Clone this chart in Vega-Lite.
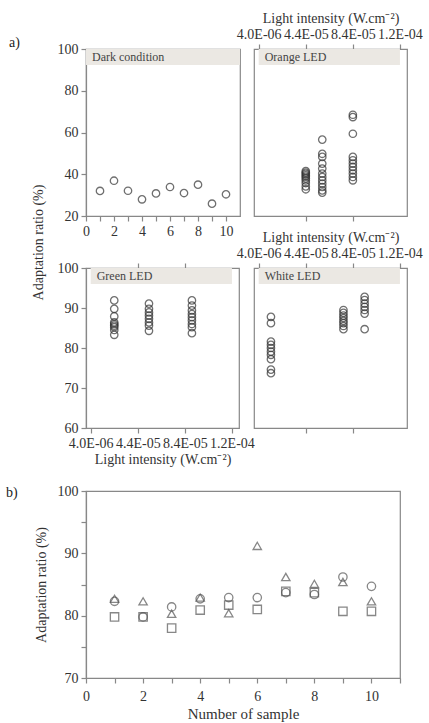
{
 "$schema": "https://vega.github.io/schema/vega-lite/v6.json",
 "padding": {"left": 5, "top": 10, "right": 5, "bottom": 0},
 "background": "white",
 "config": {
  "view": {"stroke": "#888", "strokeWidth": 1.2},
  "font": "Liberation Serif",
  "axis": {"labelFont": "Liberation Serif", "titleFont": "Liberation Serif", "labelFontSize": 14, "titleFontSize": 14, "titleFontWeight": "normal", "domainColor": "#888", "domainWidth": 1.2, "tickColor": "#888", "tickWidth": 1.2, "tickSize": 5, "grid": false, "labelColor": "#333", "titleColor": "#333", "labelPadding": 3, "labelOverlap": false, "labelFlush": false},
  "title": {"font": "Liberation Serif", "fontSize": 14, "fontWeight": "normal", "color": "#222"}
 },
 "datasets": {
  "dark": [
   {"sample": 1, "ratio": 32.0}, {"sample": 2, "ratio": 36.9}, {"sample": 3, "ratio": 32.1}, {"sample": 4, "ratio": 28.0}, {"sample": 5, "ratio": 30.8},
   {"sample": 6, "ratio": 33.9}, {"sample": 7, "ratio": 31.0}, {"sample": 8, "ratio": 35.0}, {"sample": 9, "ratio": 25.9}, {"sample": 10, "ratio": 30.4}
  ],
  "orange": [
   {"intensity": 0.000044, "ratio": 41.5}, {"intensity": 0.000044, "ratio": 40.8}, {"intensity": 0.000044, "ratio": 40.2}, {"intensity": 0.000044, "ratio": 39.5}, {"intensity": 0.000044, "ratio": 38.8},
   {"intensity": 0.000044, "ratio": 38.0}, {"intensity": 0.000044, "ratio": 37.0}, {"intensity": 0.000044, "ratio": 35.8}, {"intensity": 0.000044, "ratio": 34.2}, {"intensity": 0.000044, "ratio": 32.8},
   {"intensity": 0.000058, "ratio": 56.6}, {"intensity": 0.000058, "ratio": 49.8}, {"intensity": 0.000058, "ratio": 48.3}, {"intensity": 0.000058, "ratio": 45.1}, {"intensity": 0.000058, "ratio": 42.7},
   {"intensity": 0.000058, "ratio": 40.3}, {"intensity": 0.000058, "ratio": 38.7}, {"intensity": 0.000058, "ratio": 37.1}, {"intensity": 0.000058, "ratio": 35.5}, {"intensity": 0.000058, "ratio": 33.9},
   {"intensity": 0.000058, "ratio": 32.3}, {"intensity": 0.000058, "ratio": 31.2},
   {"intensity": 0.000084, "ratio": 68.5}, {"intensity": 0.000084, "ratio": 67.4}, {"intensity": 0.000084, "ratio": 59.4}, {"intensity": 0.000084, "ratio": 48.3}, {"intensity": 0.000084, "ratio": 46.7},
   {"intensity": 0.000084, "ratio": 45.1}, {"intensity": 0.000084, "ratio": 43.5}, {"intensity": 0.000084, "ratio": 41.9}, {"intensity": 0.000084, "ratio": 40.3}, {"intensity": 0.000084, "ratio": 38.7},
   {"intensity": 0.000084, "ratio": 37.1}
  ],
  "green": [
   {"intensity": 0.000024, "ratio": 91.9}, {"intensity": 0.000024, "ratio": 89.8}, {"intensity": 0.000024, "ratio": 87.9}, {"intensity": 0.000024, "ratio": 86.4}, {"intensity": 0.000024, "ratio": 86.0},
   {"intensity": 0.000024, "ratio": 85.6}, {"intensity": 0.000024, "ratio": 85.2}, {"intensity": 0.000024, "ratio": 84.5}, {"intensity": 0.000024, "ratio": 83.3},
   {"intensity": 0.0000535, "ratio": 91.1}, {"intensity": 0.0000535, "ratio": 89.8}, {"intensity": 0.0000535, "ratio": 88.9}, {"intensity": 0.0000535, "ratio": 88.1}, {"intensity": 0.0000535, "ratio": 87.3},
   {"intensity": 0.0000535, "ratio": 86.4}, {"intensity": 0.0000535, "ratio": 85.6}, {"intensity": 0.0000535, "ratio": 84.3},
   {"intensity": 0.00009, "ratio": 91.9}, {"intensity": 0.00009, "ratio": 90.6}, {"intensity": 0.00009, "ratio": 89.4}, {"intensity": 0.00009, "ratio": 88.5}, {"intensity": 0.00009, "ratio": 87.7},
   {"intensity": 0.00009, "ratio": 86.9}, {"intensity": 0.00009, "ratio": 86.0}, {"intensity": 0.00009, "ratio": 85.2}, {"intensity": 0.00009, "ratio": 83.7}
  ],
  "white": [
   {"intensity": 0.0000144, "ratio": 87.8}, {"intensity": 0.0000144, "ratio": 86.2}, {"intensity": 0.0000144, "ratio": 81.6}, {"intensity": 0.0000144, "ratio": 80.8}, {"intensity": 0.0000144, "ratio": 80.0},
   {"intensity": 0.0000144, "ratio": 79.1}, {"intensity": 0.0000144, "ratio": 78.3}, {"intensity": 0.0000144, "ratio": 77.2}, {"intensity": 0.0000144, "ratio": 74.6}, {"intensity": 0.0000144, "ratio": 73.7},
   {"intensity": 0.000076, "ratio": 89.5}, {"intensity": 0.000076, "ratio": 88.8}, {"intensity": 0.000076, "ratio": 88.1}, {"intensity": 0.000076, "ratio": 87.5}, {"intensity": 0.000076, "ratio": 86.8},
   {"intensity": 0.000076, "ratio": 86.2}, {"intensity": 0.000076, "ratio": 85.5}, {"intensity": 0.000076, "ratio": 84.7},
   {"intensity": 0.000094, "ratio": 92.8}, {"intensity": 0.000094, "ratio": 92.0}, {"intensity": 0.000094, "ratio": 91.1}, {"intensity": 0.000094, "ratio": 90.3}, {"intensity": 0.000094, "ratio": 89.5},
   {"intensity": 0.000094, "ratio": 88.6}, {"intensity": 0.000094, "ratio": 84.7}
  ],
  "samples": [
   {"sample": 1, "series": "A", "ratio": 82.3}, {"sample": 2, "series": "A", "ratio": 79.8}, {"sample": 3, "series": "A", "ratio": 81.4}, {"sample": 4, "series": "A", "ratio": 82.7}, {"sample": 5, "series": "A", "ratio": 82.9},
   {"sample": 6, "series": "A", "ratio": 82.9}, {"sample": 7, "series": "A", "ratio": 83.7}, {"sample": 8, "series": "A", "ratio": 83.4}, {"sample": 9, "series": "A", "ratio": 86.2}, {"sample": 10, "series": "A", "ratio": 84.7},
   {"sample": 1, "series": "B", "ratio": 82.7}, {"sample": 2, "series": "B", "ratio": 82.3}, {"sample": 3, "series": "B", "ratio": 80.3}, {"sample": 4, "series": "B", "ratio": 82.9}, {"sample": 5, "series": "B", "ratio": 80.4},
   {"sample": 6, "series": "B", "ratio": 91.2}, {"sample": 7, "series": "B", "ratio": 86.2}, {"sample": 8, "series": "B", "ratio": 85.1}, {"sample": 9, "series": "B", "ratio": 85.4}, {"sample": 10, "series": "B", "ratio": 82.3},
   {"sample": 1, "series": "C", "ratio": 79.8}, {"sample": 2, "series": "C", "ratio": 79.8}, {"sample": 3, "series": "C", "ratio": 78.0}, {"sample": 4, "series": "C", "ratio": 80.9}, {"sample": 5, "series": "C", "ratio": 81.7},
   {"sample": 6, "series": "C", "ratio": 81.0}, {"sample": 7, "series": "C", "ratio": 83.9}, {"sample": 8, "series": "C", "ratio": 83.7}, {"sample": 9, "series": "C", "ratio": 80.7}, {"sample": 10, "series": "C", "ratio": 80.7}
  ]
 },
 "vconcat": [
  {
   "columns": 2,
   "bounds": "flush",
   "spacing": {"row": 52, "column": 14},
   "concat": [
    {
     "width": 154, "height": 167,
     "title": {"text": "a)", "anchor": "start", "frame": "group", "offset": 0, "dx": -77, "dy": 8},
     "resolve": {"axis": {"x": "independent", "y": "independent"}},
     "layer": [
      {"data": {"values": [{}]}, "mark": {"type": "rect", "color": "#ebe8e3"},
       "encoding": {"x": {"datum": 0, "type": "quantitative", "scale": {"domain": [0, 11]}, "axis": null}, "x2": {"datum": 11},
        "y": {"datum": 100, "type": "quantitative", "scale": {"domain": [20, 100]}, "axis": null}, "y2": {"datum": 92.3}}},
      {"data": {"values": [{}]}, "mark": {"type": "text", "align": "left", "baseline": "middle", "dx": 6, "dy": 8, "font": "Liberation Serif", "fontSize": 12, "color": "#444"},
       "encoding": {"x": {"datum": 0, "type": "quantitative", "axis": null}, "y": {"datum": 100, "type": "quantitative", "axis": null}, "text": {"value": "Dark condition"}}},
      {"data": {"name": "dark"},
       "mark": {"type": "point", "shape": "circle", "filled": false, "size": 55, "stroke": "#333", "strokeWidth": 1.3},
       "encoding": {
        "x": {"field": "sample", "type": "quantitative", "scale": {"domain": [0, 11]}, "axis": {"title": null, "values": [0, 1, 2, 3, 4, 5, 6, 7, 8, 9, 10], "labelExpr": "datum.value % 2 == 0 ? datum.label : ''", "labelOverlap": false}},
        "y": {"field": "ratio", "type": "quantitative", "scale": {"domain": [20, 100]}, "axis": {"title": null, "values": [20, 40, 60, 80, 100]}}
       }}
     ]
    },
    {
     "width": 153, "height": 167,
     "resolve": {"axis": {"x": "independent", "y": "independent"}},
     "layer": [
      {"data": {"values": [{}]}, "mark": {"type": "rect", "color": "#ebe8e3"},
       "encoding": {"x": {"datum": 0.000004, "type": "quantitative", "scale": {"domain": [0.000004, 0.000124]}, "axis": {"orient": "bottom", "title": null, "labels": false, "domain": false, "values": [0.000044, 0.000084]}}, "x2": {"datum": 0.000124},
        "y": {"datum": 100, "type": "quantitative", "scale": {"domain": [20, 100]}, "axis": null}, "y2": {"datum": 92.3}}},
      {"data": {"values": [{}]}, "mark": {"type": "text", "align": "left", "baseline": "middle", "dx": 6, "dy": 8, "font": "Liberation Serif", "fontSize": 12, "color": "#444"},
       "encoding": {"x": {"datum": 0.000004, "type": "quantitative", "axis": null}, "y": {"datum": 100, "type": "quantitative", "axis": null}, "text": {"value": "Orange LED"}}},
      {"data": {"name": "orange"},
       "mark": {"type": "point", "shape": "circle", "filled": false, "size": 55, "stroke": "#333", "strokeWidth": 1.3},
       "encoding": {
        "x": {"field": "intensity", "type": "quantitative", "scale": {"domain": [0.000004, 0.000124]}, "axis": {"orient": "top", "title": "Light intensity (W.cm⁻²)", "values": [0.000004, 0.000044, 0.000084, 0.000124], "labelExpr": "datum.value < 0.00001 ? '4.0E-06' : datum.value < 0.00005 ? '4.4E-05' : datum.value < 0.00009 ? '8.4E-05' : '1.2E-04'", "labelBound": false, "titlePadding": 2}},
        "y": {"field": "ratio", "type": "quantitative", "scale": {"domain": [20, 100]}, "axis": null}
       }}
     ]
    },
    {
     "width": 153, "height": 160,
     "resolve": {"axis": {"x": "independent", "y": "independent"}},
     "layer": [
      {"data": {"values": [{}]}, "mark": {"type": "rect", "color": "#ebe8e3"},
       "encoding": {"x": {"datum": 0.000004, "type": "quantitative", "scale": {"domain": [0.000004, 0.000124]}, "axis": {"orient": "top", "title": null, "labels": false, "domain": false, "values": [0.000044, 0.000084]}}, "x2": {"datum": 0.000124},
        "y": {"datum": 100, "type": "quantitative", "scale": {"domain": [60, 100]}, "axis": null}, "y2": {"datum": 96}}},
      {"data": {"values": [{}]}, "mark": {"type": "text", "align": "left", "baseline": "middle", "dx": 6, "dy": 8, "font": "Liberation Serif", "fontSize": 12, "color": "#444"},
       "encoding": {"x": {"datum": 0.000004, "type": "quantitative", "axis": null}, "y": {"datum": 100, "type": "quantitative", "axis": null}, "text": {"value": "Green LED"}}},
      {"data": {"name": "green"},
       "mark": {"type": "point", "shape": "circle", "filled": false, "size": 55, "stroke": "#333", "strokeWidth": 1.3},
       "encoding": {
        "x": {"field": "intensity", "type": "quantitative", "scale": {"domain": [0.000004, 0.000124]}, "axis": {"orient": "bottom", "title": "Light intensity (W.cm⁻²)", "values": [0.000004, 0.000044, 0.000084, 0.000124], "labelExpr": "datum.value < 0.00001 ? '4.0E-06' : datum.value < 0.00005 ? '4.4E-05' : datum.value < 0.00009 ? '8.4E-05' : '1.2E-04'", "labelBound": false, "titlePadding": 2}},
        "y": {"field": "ratio", "type": "quantitative", "scale": {"domain": [60, 100]}, "axis": {"title": "Adaptation ratio (%)", "values": [60, 70, 80, 90, 100], "titleY": -26, "titlePadding": 12}}
       }}
     ]
    },
    {
     "width": 153, "height": 160,
     "resolve": {"axis": {"x": "independent", "y": "independent"}},
     "layer": [
      {"data": {"values": [{}]}, "mark": {"type": "rect", "color": "#ebe8e3"},
       "encoding": {"x": {"datum": 0.000004, "type": "quantitative", "scale": {"domain": [0.000004, 0.000124]}, "axis": {"orient": "bottom", "title": null, "labels": false, "domain": false, "values": [0.000044, 0.000084]}}, "x2": {"datum": 0.000124},
        "y": {"datum": 100, "type": "quantitative", "scale": {"domain": [60, 100]}, "axis": null}, "y2": {"datum": 96}}},
      {"data": {"values": [{}]}, "mark": {"type": "text", "align": "left", "baseline": "middle", "dx": 6, "dy": 8, "font": "Liberation Serif", "fontSize": 12, "color": "#444"},
       "encoding": {"x": {"datum": 0.000004, "type": "quantitative", "axis": null}, "y": {"datum": 100, "type": "quantitative", "axis": null}, "text": {"value": "White LED"}}},
      {"data": {"name": "white"},
       "mark": {"type": "point", "shape": "circle", "filled": false, "size": 55, "stroke": "#333", "strokeWidth": 1.3},
       "encoding": {
        "x": {"field": "intensity", "type": "quantitative", "scale": {"domain": [0.000004, 0.000124]}, "axis": {"orient": "top", "title": "Light intensity (W.cm⁻²)", "values": [0.000004, 0.000044, 0.000084, 0.000124], "labelExpr": "datum.value < 0.00001 ? '4.0E-06' : datum.value < 0.00005 ? '4.4E-05' : datum.value < 0.00009 ? '8.4E-05' : '1.2E-04'", "labelBound": false, "titlePadding": 2}},
        "y": {"field": "ratio", "type": "quantitative", "scale": {"domain": [60, 100]}, "axis": null}
       }}
     ]
    }
   ]
  },
  {
   "width": 314, "height": 187,
   "title": {"text": "b)", "anchor": "start", "frame": "group", "offset": 0, "dx": -80, "dy": 16},
   "data": {"name": "samples"},
   "mark": {"type": "point", "filled": false, "size": 70, "stroke": "#555", "strokeWidth": 1.3},
   "encoding": {
    "x": {"field": "sample", "type": "quantitative", "scale": {"domain": [0, 11]}, "axis": {"title": "Number of sample", "titleFontSize": 15, "titlePadding": 3, "labelPadding": 6, "values": [0, 1, 2, 3, 4, 5, 6, 7, 8, 9, 10, 11], "labelExpr": "datum.value % 2 == 0 && datum.value <= 10 ? datum.label : ''"}},
    "y": {"field": "ratio", "type": "quantitative", "scale": {"domain": [70, 100]}, "axis": {"title": "Adaptation ratio (%)", "values": [70, 75, 80, 85, 90, 95, 100], "labelExpr": "datum.value % 10 == 0 ? datum.label : ''", "titlePadding": 9}},
    "shape": {"field": "series", "type": "nominal", "scale": {"domain": ["A", "B", "C"], "range": ["circle", "triangle-up", "square"]}, "legend": null}
   }
  }
 ],
 "spacing": 16
}
